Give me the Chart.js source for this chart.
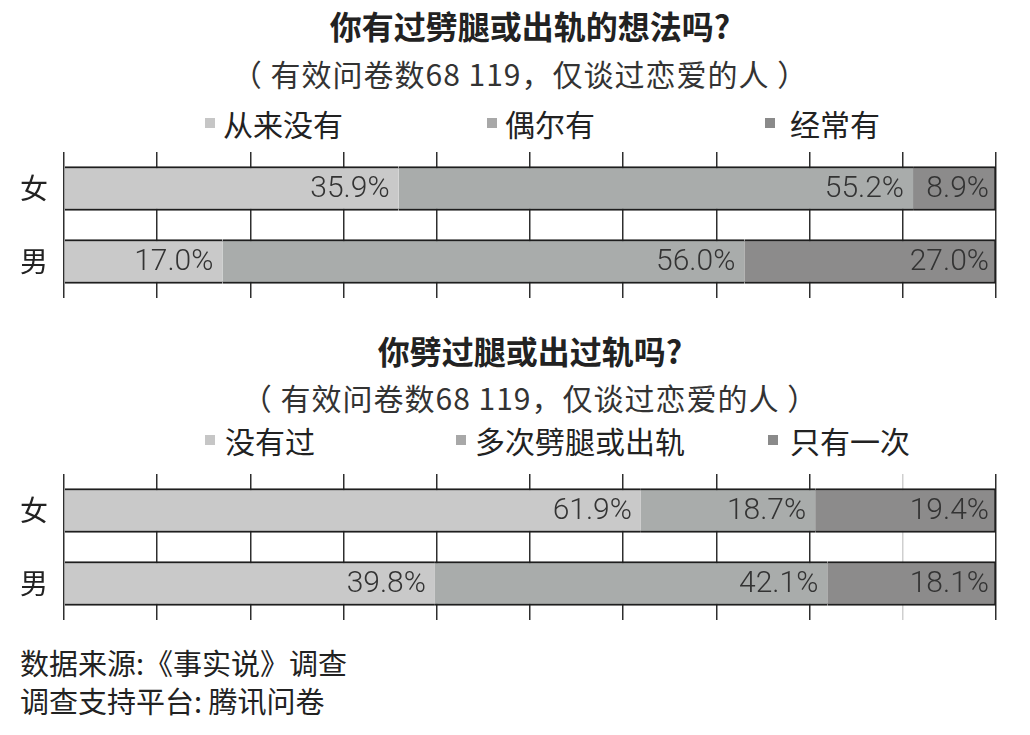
<!DOCTYPE html>
<html>
<head>
<meta charset="utf-8">
<script src="https://cdn.jsdelivr.net/npm/chart.js@4/dist/chart.umd.min.js"></script>
<style>
  html, body { margin: 0; padding: 0; background: #fff; }
  body { width: 1030px; height: 735px; position: relative; overflow: hidden;
         font-family: "Noto Sans CJK SC", "Noto Sans", sans-serif; color: #222; }
  .t { position: absolute; left: 0; width: 1060px; text-align: center; white-space: nowrap; }
  .title { font-size: 32px; font-weight: bold; line-height: 40px; }
  .sub { font-size: 30px; line-height: 40px; color: #333; letter-spacing: 1px; }
  .lg { position: absolute; font-size: 30px; line-height: 40px; white-space: nowrap; color: #222; }
  .sq { position: absolute; width: 10px; height: 10px; }
  .src { position: absolute; left: 20px; font-size: 29px; line-height: 38px; white-space: nowrap; color: #222; }
  .box { position: absolute; left: 0; width: 1030px; }
</style>
</head>
<body>
<div class="t title" style="top:5px;">你有过劈腿或出轨的想法吗?</div>
<div class="t sub" style="top:53px;left:-10px;">（ 有效问卷数68 119，仅谈过恋爱的人 ）</div>
<div id="legend1"></div>
<div class="box" style="top:140px;height:170px;"><canvas id="c1"></canvas></div>

<div class="t title" style="top:330px;">你劈过腿或出过轨吗?</div>
<div class="t sub" style="top:377px;">（ 有效问卷数68 119，仅谈过恋爱的人 ）</div>
<div id="legend2"></div>
<div class="box" style="top:462px;height:170px;"><canvas id="c2"></canvas></div>

<div class="src" style="top:643px;">数据来源:《事实说》调查</div>
<div class="src" style="top:681px;">调查支持平台: 腾讯问卷</div>

<script>
// 数据
var groups = ['女', '男'];

var series1 = ['从来没有', '偶尔有', '经常有'];
var never1 = [35.9, 17.0];
var sometimes1 = [55.2, 56.0];
var often1 = [8.9, 27.0];

var series2 = ['没有过', '多次劈腿或出轨', '只有一次'];
var never2 = [61.9, 39.8];
var many2 = [18.7, 42.1];
var once2 = [19.4, 18.1];

var barColors = ['#c9c9c9', '#a9acab', '#8c8b8b'];
var legendColors = ['#c6c6c6', '#a8a8a8', '#8a8a8a'];

// HTML 图例（Chart.js 图例无法单独设置横向间距）
function buildLegend(id, names, sqX, textX, cy) {
  var el = document.getElementById(id);
  names.forEach(function (n, i) {
    var sq = document.createElement('div');
    sq.className = 'sq';
    sq.style.left = sqX[i] + 'px';
    sq.style.top = (cy - 5) + 'px';
    sq.style.background = legendColors[i];
    el.appendChild(sq);
    var t = document.createElement('div');
    t.className = 'lg';
    t.style.left = textX[i] + 'px';
    t.style.top = (cy - 20) + 'px';
    t.textContent = n;
    el.appendChild(t);
  });
}
buildLegend('legend1', series1, [205, 487, 765], [223, 505, 790], 123);
buildLegend('legend2', series2, [205, 456, 768], [225, 475, 790], 440);

// 段内右对齐的百分比标签
var valueLabels = {
  id: 'valueLabels',
  afterDatasetsDraw: function (chart) {
    var ctx = chart.ctx;
    ctx.save();
    ctx.font = '300 30px Roboto, "Noto Sans", sans-serif';
    ctx.fillStyle = '#333';
    ctx.textAlign = 'right';
    ctx.textBaseline = 'middle';
    chart.data.datasets.forEach(function (ds, di) {
      var meta = chart.getDatasetMeta(di);
      meta.data.forEach(function (bar, i) {
        var right = di === chart.data.datasets.length - 1 ? 7 : 9;
        ctx.fillText(ds.data[i].toFixed(1) + '%', bar.x - right, bar.y + 1);
      });
    });
    ctx.restore();
  }
};

function makeDatasets(names, arrs) {
  return names.map(function (n, i) {
    return {
      label: n,
      data: arrs[i],
      backgroundColor: barColors[i],
      borderColor: '#1e1e1e',
      borderWidth: { top: 2, bottom: 2, left: 0, right: i === arrs.length - 1 ? 2 : 0 },
      borderSkipped: false,
      barThickness: 44
    };
  });
}

function makeChart(id, names, arrs, gridColorFn) {
  return new Chart(document.getElementById(id), {
    type: 'bar',
    data: { labels: groups, datasets: makeDatasets(names, arrs) },
    plugins: [valueLabels],
    options: {
      indexAxis: 'y',
      responsive: true,
      maintainAspectRatio: false,
      animation: false,
      layout: { padding: { top: 12, bottom: 12, left: 0, right: 34 } },
      plugins: { legend: { display: false }, tooltip: { enabled: false }, title: { display: false } },
      scales: {
        x: {
          stacked: true, min: 0, max: 100,
          ticks: { display: false, stepSize: 10 },
          grid: { color: gridColorFn, lineWidth: 1.5, drawTicks: false },
          border: { display: false },
          afterFit: function (s) { s.height = 0; }
        },
        y: {
          stacked: true,
          ticks: { color: '#222', font: { family: '"Noto Sans CJK SC"', size: 28 }, padding: 16 },
          grid: { display: false, drawTicks: false },
          border: { display: false },
          afterFit: function (s) {
            s.width = 64;
            s.paddingTop = 0;
            s.paddingBottom = 0;
          }
        }
      }
    }
  });
}

makeChart('c1', series1, [never1, sometimes1, often1], '#2e2e2e');
makeChart('c2', series2, [never2, many2, once2], function (c) {
  return c.tick && c.tick.value === 90 ? '#cfcfcf' : '#2e2e2e';
});
</script>
</body>
</html>
